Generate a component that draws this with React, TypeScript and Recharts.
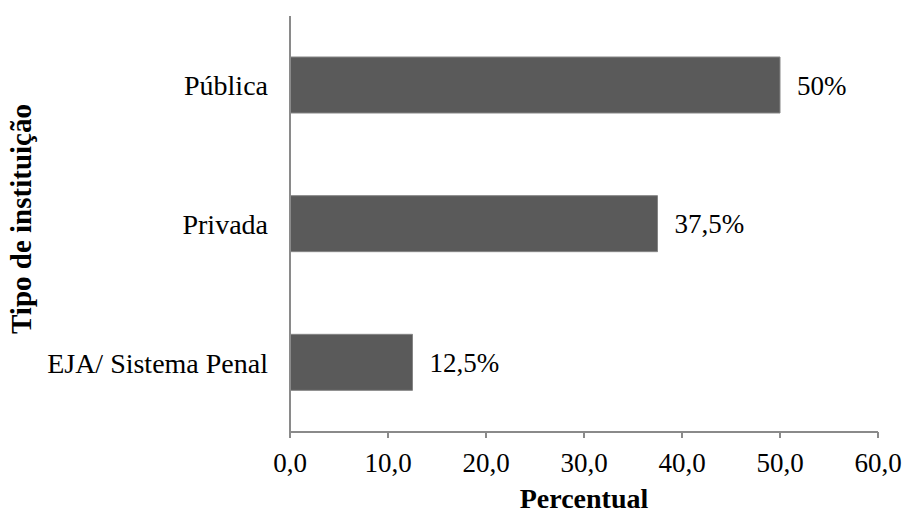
import React from "react";
import {Bar, BarChart, Label, LabelList, XAxis, YAxis} from "recharts";

const categories = ["Pública", "Privada", "EJA/ Sistema Penal"];
const percentValues = [50, 37.5, 12.5];
const xTicks = [0, 10, 20, 30, 40, 50, 60];
// band edges for the tick marks on the category axis
const bandEdges = [0, 1, 2, 3];

const data = categories.map((name, i) => ({name, value: percentValues[i]}));

const font = "Liberation Serif";
const axisGray = "#8a8a8a";

const comma = (v: number, digits?: number) =>
    (digits === undefined ? String(v) : v.toFixed(digits)).replace(".", ",");

export default function App() {
    return (
        <div style={{position: "absolute", left: 0, top: 0, background: "#fff", fontFamily: "Liberation Serif, serif"}}>
            <BarChart
                width={906}
                height={516}
                data={data}
                layout="vertical"
                margin={{top: 16, right: 28, bottom: 0, left: 0}}
            >
                <XAxis
                    type="number"
                    domain={[0, 60]}
                    ticks={xTicks}
                    tickFormatter={(v) => comma(v, 1)}
                    height={84}
                    stroke={axisGray}
                    strokeWidth={2}
                    tickSize={6}
                    tickMargin={15}
                    tick={{fill: "#000", fontSize: 27, fontFamily: font}}
                >
                    <Label
                        value="Percentual"
                        position="insideBottom"
                        offset={8}
                        fontFamily={font}
                        fontSize={28}
                        fontWeight="bold"
                        fill="#000"
                    />
                </XAxis>
                <YAxis
                    yAxisId="edges"
                    type="number"
                    domain={[0, 3]}
                    ticks={bandEdges}
                    width={0}
                    tick={false}
                    axisLine={false}
                    tickSize={6}
                    stroke={axisGray}
                    strokeWidth={2}
                />
                <YAxis
                    type="category"
                    dataKey="name"
                    width={290}
                    stroke={axisGray}
                    strokeWidth={2}
                    tickLine={false}
                    tickSize={6}
                    tickMargin={16}
                    tick={{fill: "#000", fontSize: 28, fontFamily: font}}
                >
                    <Label
                        content={({viewBox}: any) => {
                            const cy = viewBox.y + viewBox.height / 2 - 5;
                            return (
                                <text
                                    x={21}
                                    y={cy}
                                    transform={`rotate(-90, 21, ${cy})`}
                                    textAnchor="middle"
                                    dominantBaseline="central"
                                    fontFamily={font}
                                    fontSize={29}
                                    fontWeight="bold"
                                    fill="#000"
                                >
                                    Tipo de instituição
                                </text>
                            );
                        }}
                    />
                </YAxis>
                <Bar
                    dataKey="value"
                    fill="#5a5a5a"
                    stroke="#858585"
                    strokeWidth={1}
                    barSize={56}
                    isAnimationActive={false}
                >
                    <LabelList
                        dataKey="value"
                        position="right"
                        offset={17}
                        formatter={(v: any) => comma(v) + "%"}
                        fontFamily={font}
                        fontSize={27}
                        fill="#000"
                    />
                </Bar>
            </BarChart>
        </div>
    );
}
